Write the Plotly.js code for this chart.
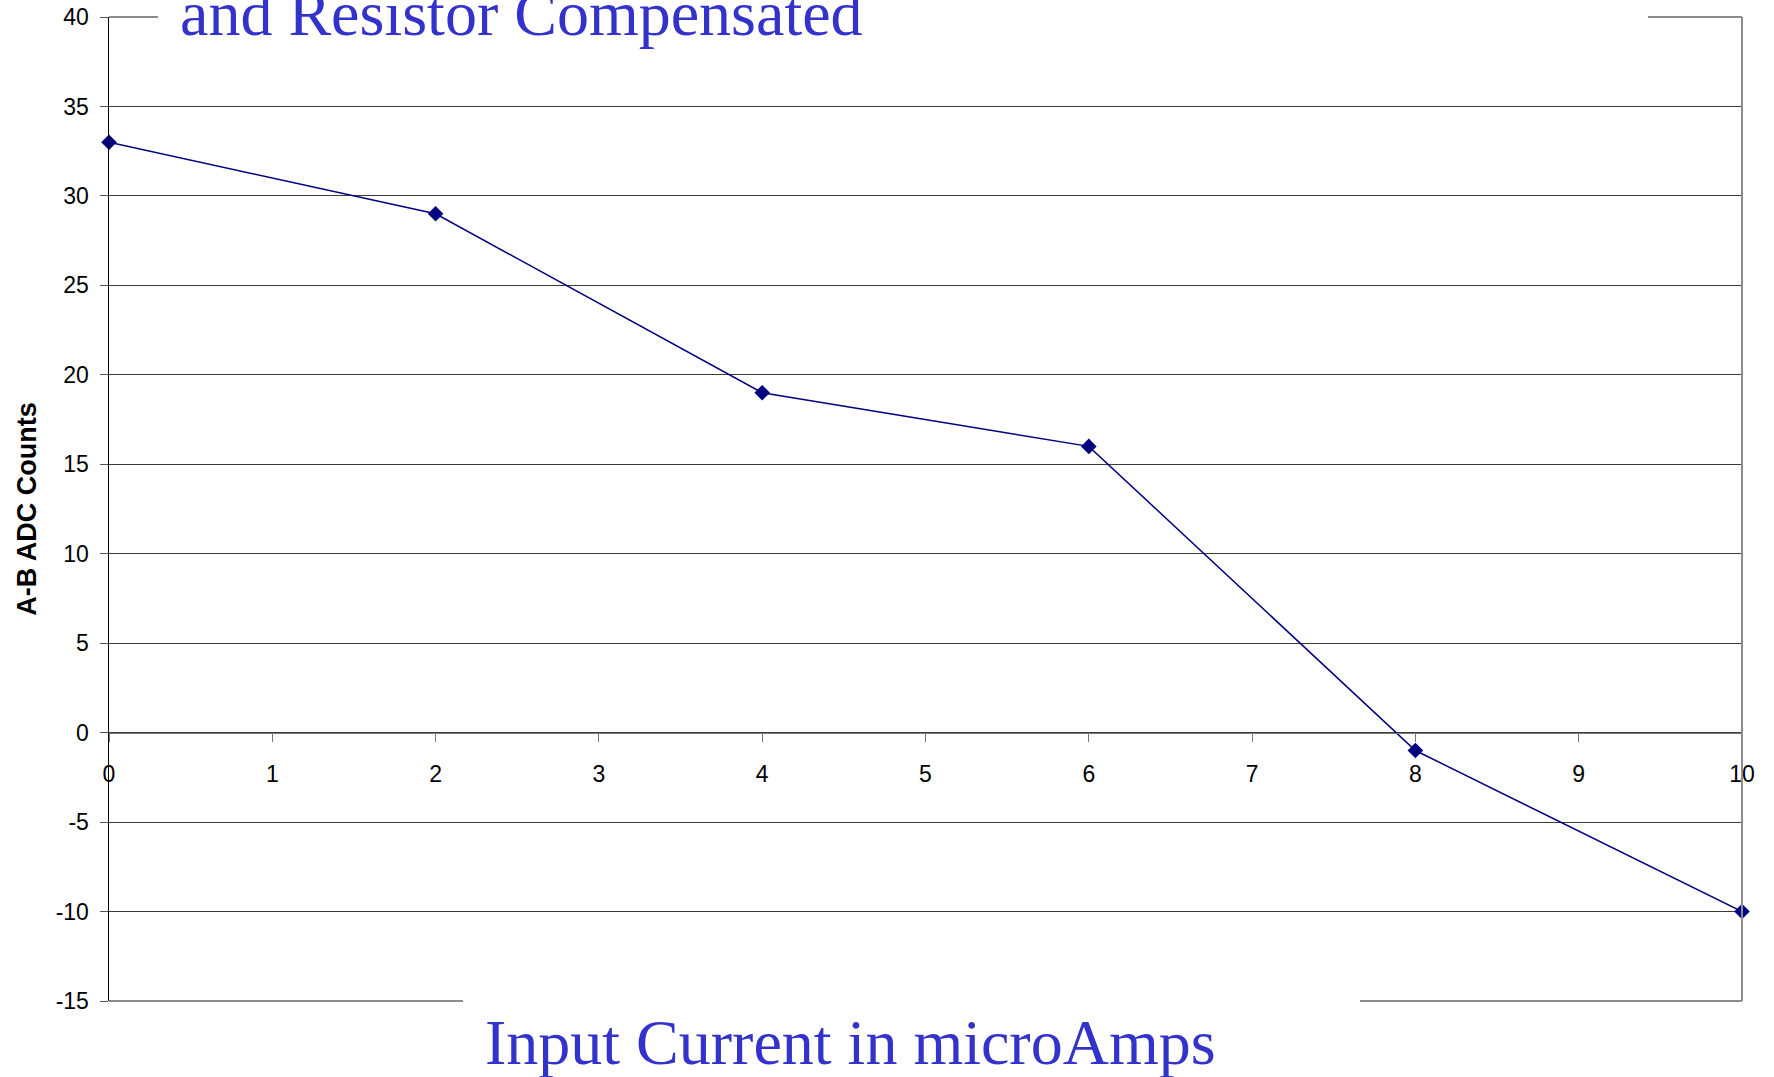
<!DOCTYPE html>
<html>
<head>
<meta charset="utf-8">
<script src="https://cdn.plot.ly/plotly-3.0.1.min.js"></script>
<style>
  html, body { margin: 0; padding: 0; background: #ffffff; }
  #chart { width: 1774px; height: 1077px; }
</style>
</head>
<body>
<div id="chart"></div>
<script>
// Measured difference between channels A and B versus injected current
const inputCurrentUA = [0, 2, 4, 6, 8, 10];
const adcCountsAB = [33, 29, 19, 16, -1, -10];

// y tick values and their labels (plain hyphen for negatives)
const yTickVals = [-15, -10, -5, 0, 5, 10, 15, 20, 25, 30, 35, 40];
const yTickText = ['-15', '-10', '-5', '0', '5', '10', '15', '20', '25', '30', '35', '40'];

const titleLine = 'and Resistor Compensated';
const xTitle = 'Input Current in microAmps';
const yTitle = 'A-B ADC Counts';

const xRange = [0, 10];
const yRange = [-15, 40];

const W = 1774, H = 1077;
const margin = { l: 109, r: 32, t: 17, b: 76 };
const plotW = W - margin.l - margin.r;
const plotH = H - margin.t - margin.b;

// pixel helpers for paper-referenced decorations
const px = x => (x - margin.l) / plotW;
const py = y => (H - margin.b - y) / plotH;

const navy = '#000080';
const frameGray = '#8c8c8c';
const titleBlue = '#3333cc';
const tickFont = { family: 'Liberation Sans, Arial, sans-serif', size: 23, color: '#000000' };

const trace = {
  x: inputCurrentUA,
  y: adcCountsAB,
  type: 'scatter',
  mode: 'lines+markers',
  line: { color: navy, width: 1.5 },
  marker: { symbol: 'diamond', size: 12, color: navy },
  cliponaxis: false,
  hoverinfo: 'x+y'
};

// chart frame: right edge plus the visible pieces of the top and bottom edges
function seg(x0, y0, x1, y1) {
  return { type: 'line', xref: 'paper', yref: 'paper', x0, y0, x1, y1,
           line: { color: frameGray, width: 2 } };
}
const shapes = [
  seg(0, 1, px(158), 1),
  seg(px(1648), 1, 1, 1),
  seg(1, 0, 1, 1),
  seg(0, 0, px(463), 0),
  seg(px(1360), 0, 1, 0)
];

const layout = {
  width: W,
  height: H,
  margin: Object.assign({ pad: 0 }, margin),
  paper_bgcolor: '#ffffff',
  plot_bgcolor: '#ffffff',
  showlegend: false,
  xaxis: {
    range: xRange,
    tick0: 0,
    dtick: 1,
    anchor: 'free',
    position: (0 - yRange[0]) / (yRange[1] - yRange[0]),
    showline: true,
    linecolor: '#777777',
    linewidth: 1.5,
    ticks: 'outside',
    ticklen: 8,
    tickwidth: 1,
    tickcolor: '#777777',
    ticklabelstandoff: 12,
    showgrid: false,
    zeroline: false,
    tickfont: tickFont,
    fixedrange: true
  },
  yaxis: {
    range: yRange,
    tickmode: 'array',
    tickvals: yTickVals,
    ticktext: yTickText,
    showline: true,
    linecolor: '#000000',
    linewidth: 1.5,
    ticks: 'outside',
    ticklen: 8,
    tickwidth: 1,
    tickcolor: '#555555',
    ticklabelstandoff: 6,
    showgrid: true,
    gridcolor: '#3c3c3c',
    gridwidth: 1,
    zeroline: false,
    tickfont: tickFont,
    title: {
      text: yTitle,
      font: { family: 'Liberation Sans, Arial, sans-serif', size: 27, color: '#000000', weight: 'bold' },
      standoff: 11
    },
    automargin: false,
    fixedrange: true
  },
  shapes: shapes,
  annotations: [
    {
      text: titleLine,
      xref: 'paper', yref: 'paper',
      x: px(178), y: py(51.5),
      xanchor: 'left', yanchor: 'bottom',
      showarrow: false,
      font: { family: 'Liberation Serif, Times New Roman, serif', size: 64, color: titleBlue }
    },
    {
      text: xTitle,
      xref: 'paper', yref: 'paper',
      x: px(483), y: py(1080),
      xanchor: 'left', yanchor: 'bottom',
      showarrow: false,
      font: { family: 'Liberation Serif, Times New Roman, serif', size: 64, color: titleBlue }
    }
  ]
};

Plotly.newPlot('chart', [trace], layout, { displayModeBar: false, staticPlot: true });
</script>
</body>
</html>
